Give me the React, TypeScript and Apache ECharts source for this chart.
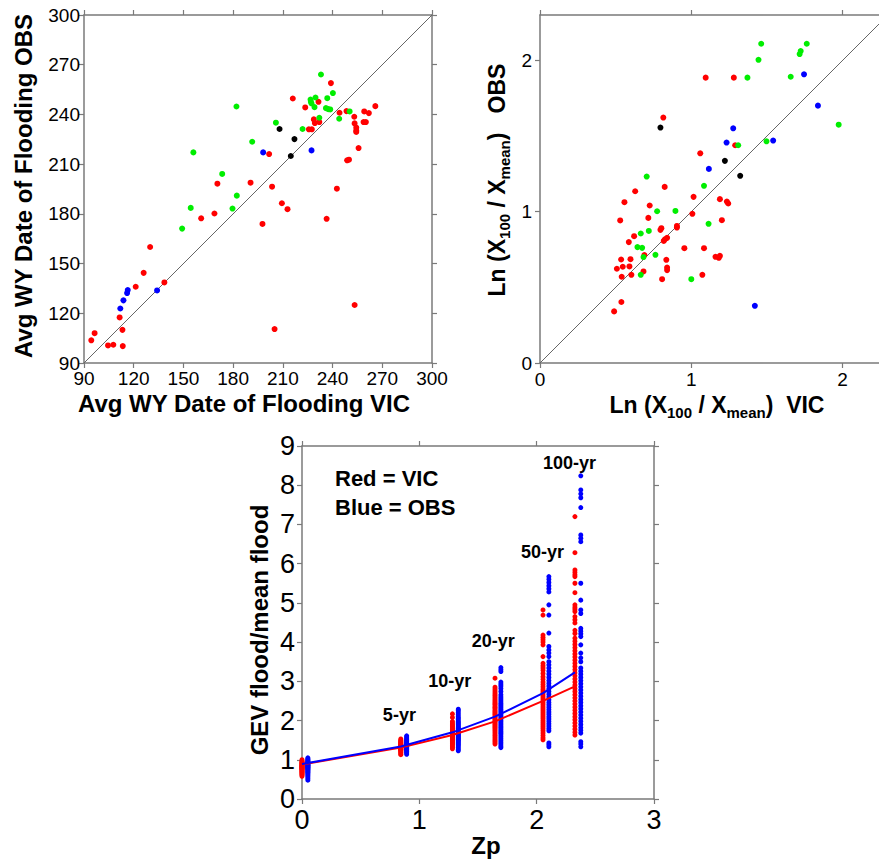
import React, { useEffect, useRef } from "react";
import * as echarts from "echarts";

// ---------- Top-left: Avg WY Date of Flooding ----------
const tlTicks = [90, 120, 150, 180, 210, 240, 270, 300];
const tlDiag = [[90, 90], [300, 300]];
const tlRed = [
  [94.4, 103.7], [96.4, 108], [104.5, 100.6], [107.7, 101], [113.4, 100.2], [113.2, 110],
  [111.5, 117.5], [121.2, 136], [126, 144.4], [129.9, 160], [138.5, 138.6], [160.7, 177.3],
  [168.7, 180.2], [170.5, 198.2], [190.5, 198.8], [197.7, 173.9], [201.7, 216.1], [203.5, 196.4],
  [209.4, 186.4], [212.8, 182.8], [205, 110.5], [216, 249.6], [223.5, 244.2], [225.7, 231],
  [227.5, 231], [228.7, 237], [229.3, 234.8], [231.5, 247.6], [232, 235.4], [239, 258.9],
  [236.4, 177], [242.6, 195.2], [244.2, 241], [248.4, 242], [248.8, 212.3], [249.9, 212.7],
  [253.1, 238.6], [253.3, 234.6], [254.3, 232], [254.3, 230.2], [254.3, 229.4], [255.7, 219.7],
  [253.3, 125], [258.7, 235.4], [260.1, 235.4], [259.1, 241.8], [261.9, 240.8], [265.8, 245],
];
const tlGreen = [
  [149.2, 171.1], [154.4, 183.6], [156, 217.1], [173.4, 204.1], [179.6, 183.2], [182.2, 191],
  [182, 244.8], [191.5, 223.5], [205.8, 235], [221.9, 231.2], [226.7, 249], [226.9, 247.6],
  [227.3, 246.6], [229.1, 244.4], [229.7, 250.2], [232, 238], [233, 264.1], [236, 243.8],
  [236.8, 249.8], [237.4, 243.2], [238.6, 243], [240.2, 252.9], [244, 237.4], [250.3, 241.8],
];
const tlBlue = [
  [111.9, 122.9], [113.8, 127.8], [116, 132.2], [116.4, 134], [134.1, 133.8], [198.1, 217.1],
  [227.3, 218.3],
];
const tlBlack = [[208, 231.2], [217, 225.1], [214.8, 214.9]];

// ---------- Top-right: Ln(X100/Xmean) ----------
const trTicks = [0, 1, 2];
const trDiag = [[0, 0], [2.3, 2.3]];
const trRed = [
  [0.49, 0.341], [0.538, 0.403], [0.508, 0.623], [0.536, 0.684], [0.547, 0.636], [0.54, 0.57],
  [0.591, 0.638], [0.598, 0.686], [0.604, 0.583], [0.587, 0.799], [0.622, 0.838], [0.53, 0.942],
  [0.558, 1.063], [0.629, 1.135], [0.69, 0.713], [0.684, 0.605], [0.716, 0.959], [0.725, 1.041],
  [0.796, 0.88], [0.802, 0.891], [0.807, 0.554], [0.815, 1.622], [0.824, 1.164], [0.818, 0.807],
  [0.826, 0.818], [0.84, 0.827], [0.835, 0.682], [0.84, 0.631], [0.84, 0.614], [0.905, 0.906],
  [0.905, 0.895], [0.954, 0.759], [1.007, 0.986], [1.015, 1.098], [1.059, 1.386], [1.073, 0.583],
  [1.084, 0.759], [1.095, 1.886], [1.16, 0.702], [1.182, 0.695], [1.189, 0.708], [1.189, 1.083],
  [1.202, 0.944], [1.235, 1.067], [1.244, 1.054], [1.281, 1.886], [1.29, 1.439],
];
const trGreen = [
  [0.644, 0.766], [0.675, 0.761], [0.666, 0.856], [0.666, 0.583], [0.684, 0.7], [0.705, 1.232],
  [0.719, 0.873], [0.763, 0.715], [0.774, 1.003], [0.895, 1.005], [1.0, 0.554], [1.084, 1.171],
  [1.114, 0.92], [1.31, 1.439], [1.371, 1.886], [1.444, 2.004], [1.462, 2.11], [1.497, 1.465],
  [1.657, 1.892], [1.716, 2.042], [1.723, 2.062], [1.763, 2.11], [1.974, 1.575],
];
const trBlue = [
  [1.116, 1.283], [1.233, 1.457], [1.277, 1.551], [1.42, 0.378], [1.541, 1.47], [1.745, 1.908],
  [1.837, 1.701],
];
const trBlack = [[0.796, 1.556], [1.222, 1.336], [1.323, 1.237]];

// ---------- Bottom: GEV flood / mean flood vs Zp ----------
const zpRed = [0, 0.842, 1.282, 1.645, 2.054, 2.326];
const zpBlue = [0.05, 0.892, 1.332, 1.695, 2.104, 2.376];
const lineRedY = [0.88, 1.31, 1.63, 1.98, 2.5, 2.87];
const lineBlueY = [0.89, 1.34, 1.7, 2.1, 2.7, 3.23];

const red2yr = [1.0, 0.97, 0.95, 0.94, 0.92, 0.91, 0.9, 0.88, 0.87, 0.86, 0.85, 0.84, 0.83, 0.82, 0.81, 0.8, 0.79, 0.78, 0.77, 0.76, 0.75, 0.73, 0.72, 0.7, 0.69, 0.67, 0.65, 0.63, 0.61, 0.58];
const blue2yr = [1.05, 1.02, 1.0, 0.98, 0.96, 0.95, 0.93, 0.92, 0.91, 0.9, 0.88, 0.87, 0.86, 0.85, 0.84, 0.82, 0.81, 0.8, 0.79, 0.77, 0.76, 0.74, 0.72, 0.7, 0.68, 0.66, 0.63, 0.6, 0.56, 0.52, 0.48];
const red5yr = [1.53, 1.5, 1.48, 1.46, 1.44, 1.43, 1.41, 1.4, 1.38, 1.37, 1.36, 1.35, 1.34, 1.33, 1.32, 1.31, 1.3, 1.29, 1.28, 1.27, 1.26, 1.25, 1.24, 1.22, 1.2, 1.18, 1.15, 1.13];
const blue5yr = [1.61, 1.58, 1.55, 1.52, 1.5, 1.48, 1.46, 1.44, 1.42, 1.4, 1.39, 1.37, 1.36, 1.35, 1.34, 1.33, 1.31, 1.3, 1.29, 1.27, 1.26, 1.24, 1.22, 1.2, 1.17, 1.14];
const red10yr = [2.17, 2.08, 1.98, 1.94, 1.9, 1.87, 1.85, 1.82, 1.8, 1.78, 1.76, 1.74, 1.72, 1.7, 1.68, 1.67, 1.65, 1.63, 1.62, 1.6, 1.58, 1.57, 1.55, 1.53, 1.51, 1.5, 1.48, 1.46, 1.44, 1.42, 1.4, 1.37, 1.34, 1.31, 1.28];
const blue10yr = [2.29, 2.25, 2.2, 2.15, 2.1, 2.06, 2.02, 1.98, 1.95, 1.92, 1.89, 1.86, 1.83, 1.8, 1.78, 1.75, 1.72, 1.7, 1.67, 1.65, 1.62, 1.6, 1.57, 1.55, 1.52, 1.5, 1.47, 1.44, 1.41, 1.38, 1.35, 1.31, 1.27, 1.23];
const red20yr = [3.08, 2.85, 2.8, 2.75, 2.7, 2.66, 2.62, 2.58, 2.54, 2.5, 2.46, 2.43, 2.4, 2.36, 2.33, 2.3, 2.26, 2.23, 2.2, 2.17, 2.14, 2.1, 2.07, 2.04, 2.01, 1.98, 1.95, 1.92, 1.89, 1.86, 1.83, 1.8, 1.76, 1.72, 1.68, 1.64, 1.6, 1.56, 1.52, 1.48, 1.44, 1.4];
const blue20yr = [3.35, 3.3, 3.25, 2.98, 2.93, 2.88, 2.82, 2.74, 2.66, 2.6, 2.55, 2.5, 2.45, 2.41, 2.37, 2.33, 2.29, 2.25, 2.21, 2.17, 2.13, 2.09, 2.05, 2.01, 1.97, 1.93, 1.89, 1.85, 1.81, 1.77, 1.73, 1.69, 1.65, 1.6, 1.55, 1.5, 1.45, 1.4, 1.35, 1.31];
const red50yr = [4.82, 4.69, 4.18, 4.12, 4.06, 4.0, 3.93, 3.63, 3.46, 3.4, 3.34, 3.28, 3.2, 3.12, 3.05, 2.98, 2.92, 2.86, 2.8, 2.75, 2.7, 2.65, 2.6, 2.55, 2.5, 2.45, 2.4, 2.35, 2.3, 2.25, 2.2, 2.15, 2.1, 2.05, 2.0, 1.95, 1.9, 1.85, 1.8, 1.74, 1.68, 1.62, 1.56, 1.51];
const blue50yr = [5.67, 5.6, 5.52, 5.44, 5.36, 5.28, 4.95, 4.69, 4.23, 3.89, 3.8, 3.72, 3.63, 3.5, 3.42, 3.34, 3.26, 3.18, 3.1, 3.02, 2.95, 2.88, 2.81, 2.74, 2.67, 2.6, 2.53, 2.46, 2.4, 2.34, 2.28, 2.22, 2.16, 2.1, 2.04, 1.98, 1.92, 1.86, 1.8, 1.74, 1.43, 1.38, 1.33];
const red100yr = [7.2, 6.28, 5.84, 5.78, 5.72, 5.67, 5.5, 5.26, 4.95, 4.89, 4.84, 4.78, 4.65, 4.57, 4.49, 4.3, 4.22, 4.1, 4.02, 3.94, 3.86, 3.78, 3.7, 3.62, 3.54, 3.46, 3.38, 3.3, 3.22, 3.14, 3.06, 2.98, 2.9, 2.82, 2.74, 2.66, 2.58, 2.5, 2.42, 2.34, 2.26, 2.18, 2.1, 2.02, 1.94, 1.86, 1.78, 1.7, 1.63];
const blue100yr = [8.24, 7.88, 7.78, 7.68, 7.43, 6.73, 6.65, 6.56, 5.5, 5.07, 4.82, 4.73, 4.35, 4.28, 4.21, 4.14, 3.93, 3.72, 3.6, 3.5, 3.34, 3.26, 3.18, 3.1, 3.02, 2.94, 2.86, 2.78, 2.7, 2.62, 2.54, 2.46, 2.38, 2.3, 2.22, 2.14, 2.06, 1.98, 1.9, 1.82, 1.75, 1.68, 1.46, 1.4, 1.33];

const redColumns = [red2yr, red5yr, red10yr, red20yr, red50yr, red100yr];
const blueColumns = [blue2yr, blue5yr, blue10yr, blue20yr, blue50yr, blue100yr];

const periodLabels = ["5-yr", "10-yr", "20-yr", "50-yr", "100-yr"];
const periodLabelX = [0.83, 1.26, 1.63, 2.05, 2.28];
const periodLabelY = [2.14, 3.01, 4.03, 6.3, 8.57];

const bX = [0, 1, 2, 3];
const bY = [0, 1, 2, 3, 4, 5, 6, 7, 8, 9];

const FONT = "'Liberation Sans', Arial, Helvetica, sans-serif";
const FRAME = "#7a7a7a";
const RED = "#ff0000";
const GREEN = "#00ee00";
const BLUE = "#0000ff";

function frameAxis(
  gridIndex: number,
  position: string,
  min: number,
  max: number,
  interval: number,
  showLabel: boolean,
  fontSize: number,
  margin: number,
  custom?: number[]
) {
  const tick: any = { show: true, inside: false, length: 5, lineStyle: { color: FRAME, width: 1.2 } };
  const label: any = { show: showLabel, fontSize, color: "#000", fontFamily: FONT, margin };
  if (custom) {
    tick.customValues = custom;
    label.customValues = custom;
  }
  return {
    type: "value",
    gridIndex,
    position,
    min,
    max,
    interval,
    axisLine: { show: true, onZero: false, lineStyle: { color: FRAME, width: 1.5 } },
    axisTick: tick,
    axisLabel: label,
    splitLine: { show: false },
  };
}

function dots(data: number[][], color: string, xi: number, yi: number, size: number) {
  return {
    type: "scatter",
    xAxisIndex: xi,
    yAxisIndex: yi,
    data,
    symbolSize: size,
    itemStyle: { color, opacity: 1 },
    silent: true,
    z: 3,
  };
}

export default function App() {
  const ref = useRef<HTMLDivElement>(null);

  useEffect(() => {
    document.body.style.margin = "0";
    document.body.style.overflow = "hidden";
    if (!ref.current) return;
    const chart = echarts.init(ref.current, undefined, { renderer: "svg" });

    const redPts: number[][] = [];
    redColumns.forEach((col, i) => col.forEach((v) => redPts.push([zpRed[i], v])));
    const bluePts: number[][] = [];
    blueColumns.forEach((col, i) => col.forEach((v) => bluePts.push([zpBlue[i], v])));
    const redLine = zpRed.map((x, i) => [x, lineRedY[i]]);
    const blueLine = zpRed.map((x, i) => [x, lineBlueY[i]]);
    const periodPts = periodLabels.map((n, i) => ({ name: n, value: [periodLabelX[i], periodLabelY[i]] }));

    const titleStyle = (text: string, size = 24) => ({
      text,
      font: `bold ${size}px ${FONT}`,
      fill: "#000",
      align: "center",
      verticalAlign: "middle",
    });
    const richTitle = (suffix: string) => ({
      text: `{a|Ln (X}{s|100}{a| / X}{s|mean}{a|)${suffix}}`,
      align: "center",
      verticalAlign: "middle",
      fill: "#000",
      rich: {
        a: { fontFamily: FONT, fontWeight: "bold", fontSize: 23, lineHeight: 30, fill: "#000", verticalAlign: "middle" },
        s: { fontFamily: FONT, fontWeight: "bold", fontSize: 15, lineHeight: 14, fill: "#000", verticalAlign: "bottom" },
      },
    });

    chart.setOption({
      animation: false,
      backgroundColor: "#fff",
      grid: [
        { left: 84, top: 15, width: 348, height: 348 },
        { left: 540, top: 15, width: 348, height: 348 },
        { left: 302, top: 446, width: 352, height: 353 },
      ],
      xAxis: [
        frameAxis(0, "bottom", tlTicks[0], tlTicks[tlTicks.length - 1], 30, true, 19, 6),
        frameAxis(0, "top", tlTicks[0], tlTicks[tlTicks.length - 1], 30, false, 19, 6),
        frameAxis(1, "bottom", 0, 2.3, 1, true, 19, 7, trTicks),
        frameAxis(1, "top", 0, 2.3, 1, false, 19, 7, trTicks),
        frameAxis(2, "bottom", bX[0], bX[bX.length - 1], 1, true, 27, 7),
        frameAxis(2, "top", bX[0], bX[bX.length - 1], 1, false, 27, 7),
      ],
      yAxis: [
        frameAxis(0, "left", tlTicks[0], tlTicks[tlTicks.length - 1], 30, true, 19, 4),
        frameAxis(0, "right", tlTicks[0], tlTicks[tlTicks.length - 1], 30, false, 19, 4),
        frameAxis(1, "left", 0, 2.3, 1, true, 19, 8, trTicks),
        frameAxis(1, "right", 0, 2.3, 1, false, 19, 8, trTicks),
        frameAxis(2, "left", bY[0], bY[bY.length - 1], 1, true, 27, 7),
        frameAxis(2, "right", bY[0], bY[bY.length - 1], 1, false, 27, 7),
      ],
      series: [
        { type: "line", xAxisIndex: 0, yAxisIndex: 0, data: tlDiag, symbol: "none", silent: true, lineStyle: { color: "#666", width: 1 }, z: 2 },
        dots(tlRed, RED, 0, 0, 6),
        dots(tlGreen, GREEN, 0, 0, 6),
        dots(tlBlue, BLUE, 0, 0, 6),
        dots(tlBlack, "#000", 0, 0, 6),
        { type: "line", xAxisIndex: 2, yAxisIndex: 2, data: trDiag, symbol: "none", silent: true, lineStyle: { color: "#666", width: 1 }, z: 2 },
        dots(trRed, RED, 2, 2, 6),
        dots(trGreen, GREEN, 2, 2, 6),
        dots(trBlue, BLUE, 2, 2, 6),
        dots(trBlack, "#000", 2, 2, 6),
        dots(redPts, RED, 4, 4, 5),
        dots(bluePts, BLUE, 4, 4, 5),
        { type: "line", xAxisIndex: 4, yAxisIndex: 4, data: redLine, symbol: "none", silent: true, lineStyle: { color: RED, width: 2 }, z: 4 },
        { type: "line", xAxisIndex: 4, yAxisIndex: 4, data: blueLine, symbol: "none", silent: true, lineStyle: { color: BLUE, width: 2 }, z: 5 },
        {
          type: "scatter",
          xAxisIndex: 4,
          yAxisIndex: 4,
          data: periodPts,
          symbolSize: 0,
          silent: true,
          z: 6,
          itemStyle: { color: "#000", opacity: 1 },
          label: {
            show: true,
            position: "inside",
            formatter: "{b}",
            fontFamily: FONT,
            fontWeight: "bold",
            fontSize: 18,
            color: "#000",
            opacity: 1,
            textBorderWidth: 0,
          },
        },
      ],
      graphic: [
        { type: "text", x: 244, y: 403, style: titleStyle("Avg WY Date of Flooding VIC") },
        { type: "text", x: 23, y: 186, rotation: Math.PI / 2, style: titleStyle("Avg WY Date of Flooding OBS") },
        { type: "text", x: 717, y: 405, style: richTitle("  VIC") },
        { type: "text", x: 497, y: 180, rotation: Math.PI / 2, style: richTitle("   OBS") },
        { type: "text", x: 259, y: 630, rotation: Math.PI / 2, style: titleStyle("GEV flood/mean flood") },
        { type: "text", x: 486, y: 845, style: titleStyle("Zp") },
        { type: "text", x: 335, y: 478, style: { ...titleStyle("Red = VIC", 22), align: "left" } },
        { type: "text", x: 335, y: 507, style: { ...titleStyle("Blue = OBS", 22), align: "left" } },
      ],
    });

    return () => chart.dispose();
  }, []);

  return <div ref={ref} style={{ width: 900, height: 860 }} />;
}
